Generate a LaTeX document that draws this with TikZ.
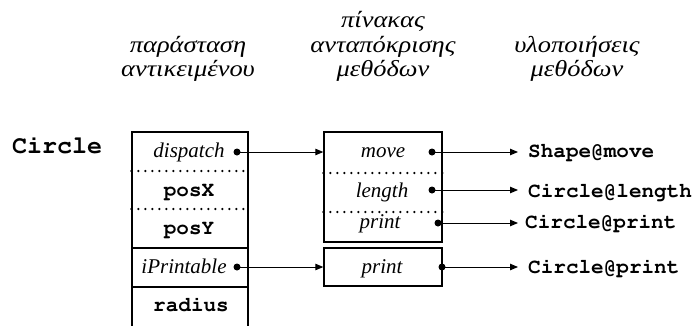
\documentclass[tikz,border=0pt]{standalone}
\usepackage[T1]{fontenc}
\usepackage{fontspec}
\setmainfont{Liberation Serif}
\newfontfamily\headfont{Liberation Serif}[FakeStretch=1.15]
\newcommand\codefont{\fontencoding{T1}\fontfamily{pcr}\fontseries{b}\fontshape{n}\selectfont}
\usetikzlibrary{arrows.meta}
\begin{document}
\begin{tikzpicture}[x=1pt,y=-1pt,
  field/.style={font=\fontsize{21}{24}\selectfont\itshape, inner sep=0pt, anchor=base},
  member/.style={font=\fontsize{21}{24}\codefont, inner sep=0pt, anchor=base},
  target/.style={member, anchor=base west},
  heading/.style={font=\fontsize{23}{24.5}\headfont\itshape, align=center,
                  inner sep=0pt, text depth=0pt, anchor=south},
  frame/.style={draw, line width=1.4pt, inner sep=0pt},
  sep/.style={line width=2.5pt, dash pattern=on 0pt off 7pt, line cap=round},
  ptr/.style={line width=0.9pt, -{Triangle[length=8pt,width=6.5pt]}},
  hook/.style={circle, fill, inner sep=0pt, minimum size=7pt},
]
\useasboundingbox (0,0) rectangle (698,325);

% column headings
\node[heading] (hobj) at (188,77) {παράσταση\\αντικειμένου};
\node[heading] (htab) at (383,77) {πίνακας\\ανταπόκρισης\\μεθόδων};
\node[heading] (himp) at (577,77) {υλοποιήσεις\\μεθόδων};

% class name
\node[member, anchor=base west, font=\fontsize{25}{28}\codefont] (cls) at (12,153) {Circle};

% object layout
\node[frame, minimum width=116pt, minimum height=116pt] (obase) at (190,190) {};
\node[frame, minimum width=116pt, minimum height=39pt] (oiface) at (190,267.5) {};
\node[frame, minimum width=116pt, minimum height=40pt] (oown) at (190,307) {};
\draw[sep] (obase.west |- 0,171) -- (obase.east |- 0,171);
\draw[sep] (obase.west |- 0,209) -- (obase.east |- 0,209);

\node[field] (fdisp) at (189,157) {dispatch};
\node[member] (fposx) at (189,196) {posX};
\node[member] (fposy) at (189,234) {posY};
\node[field] (fipr) at (184,273) {iPrintable};
\node[member] (frad) at (191,311) {radius};
\node[hook] (ddisp) at (237,152) {};
\node[hook] (dipr) at (237,267) {};

% method tables
\node[frame, minimum width=118pt, minimum height=110pt] (tshape) at (383,187) {};
\node[frame, minimum width=118pt, minimum height=38pt] (tprint) at (383,267) {};
\draw[sep] (tshape.west |- 0,173) -- (tshape.east |- 0,173);
\draw[sep] (tshape.west |- 0,212) -- (tshape.east |- 0,212);

\node[field] (mmove) at (383,157) {move};
\node[field] (mlen) at (382,197) {length};
\node[field] (mprt) at (380,228) {print};
\node[field] (mprt2) at (382,273) {print};
\node[hook] (dmove) at (432,152) {};
\node[hook] (dlen) at (432,190) {};
\node[hook] (dprt) at (438,223) {};
\node[hook] (dprt2) at (442,267) {};

% implementations
\node[target] (imove) at (528,157) {Shape@move};
\node[target] (ilen) at (528,197) {Circle@length};
\node[target] (iprt) at (525,228) {Circle@print};
\node[target] (iprt2) at (528,273) {Circle@print};

% pointers
\draw[ptr] (ddisp.center) -- (ddisp.center -| tshape.west);
\draw[ptr] (dipr.center) -- (dipr.center -| tprint.west);
\draw[ptr, shorten >=10pt] (dmove.center) -- (dmove.center -| imove.west);
\draw[ptr, shorten >=10pt] (dlen.center) -- (dlen.center -| ilen.west);
\draw[ptr, shorten >=7pt] (dprt.center) -- (dprt.center -| iprt.west);
\draw[ptr, shorten >=10pt] (dprt2.center) -- (dprt2.center -| iprt2.west);
\end{tikzpicture}
\end{document}
